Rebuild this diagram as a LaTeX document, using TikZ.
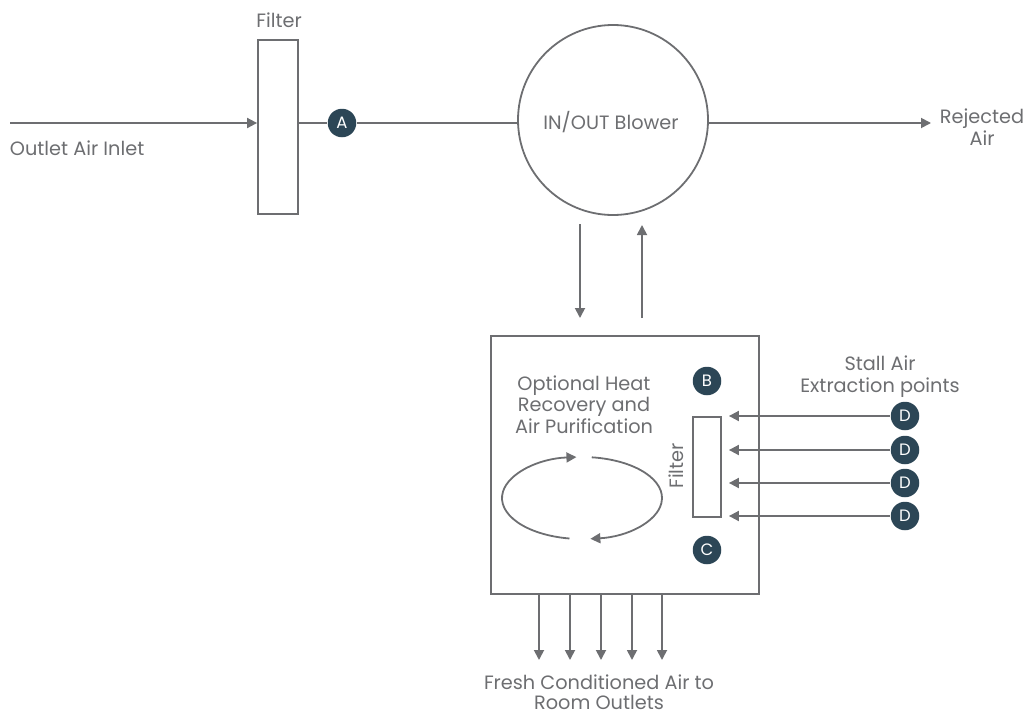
\documentclass[tikz,border=0pt]{standalone}
\usepackage{fontspec}
\setmainfont{Poppins}
\usetikzlibrary{arrows.meta,calc}
\definecolor{ln}{HTML}{6D6E71}
\definecolor{dot}{HTML}{2C4656}
\begin{document}
\begin{tikzpicture}[x=1pt,y=-1pt,
  line width=1.8pt,
  every node/.style={text=ln,font=\fontsize{19.3}{21.5}\selectfont},
  txt/.style={anchor=base,inner sep=0pt,align=center},
  arr/.style={draw=ln,-{Triangle[length=10pt,width=10pt]}},
  plain/.style={draw=ln},
  box/.style={draw=ln,rectangle,inner sep=0pt},
  lbl/.style={circle,fill=dot,text=white,minimum size=28.5pt,inner sep=0pt,font=\fontsize{16.5}{16.5}\selectfont}
]
\useasboundingbox (0,0) rectangle (1028,715);

% top row
\node[box,minimum width=40pt,minimum height=174pt] (filt1) at (278,127) {};
\node[txt] at (279,27) {Filter};
\coordinate (in) at (10,123);
\node[txt,anchor=base west] at (9,155) {Outlet Air Inlet};
\node[lbl] (A) at (342,123) {A};
\node[draw=ln,circle,minimum size=190pt,inner sep=0pt] (blower) at (613,120) {};
\node[txt] at (611,129) {IN/OUT Blower};
\coordinate (rej) at (931,123);
\node[txt] at (982,145) {Rejected\\Air};

\draw[arr] (in) -- (filt1.west |- in);
\draw[plain] (filt1.east |- A) -- (A);
\draw[plain] (A) -- (A -| blower.west);
\draw[arr] (rej -| blower.east) -- (rej);

% blower <-> unit
\coordinate (dn1) at (580,224);
\coordinate (dn2) at (580,318);
\coordinate (up1) at (642,318);
\coordinate (up2) at (642,225);
\draw[arr] (dn1) -- (dn2);
\draw[arr] (up1) -- (up2);

% main unit
\node[box,minimum width=268pt,minimum height=258pt] (unit) at (625,465) {};
\node[txt] at (584,433) {Optional Heat\\Recovery and\\Air Purification};
\node[lbl] (B) at (707,381) {B};
\node[lbl] (C) at (707,550) {C};
\node[box,minimum width=28pt,minimum height=100pt] (filt2) at (707,467) {};
\node[txt,rotate=90] at (683,466) {Filter};

% recirculation loop
\coordinate (ec) at (582,498);
\draw[arr] ($(ec)+(-83:80 and 41)$) arc[start angle=-83,end angle=84,x radius=80,y radius=41];
\draw[arr] ($(ec)+(99:80 and 41)$) arc[start angle=99,end angle=266,x radius=80,y radius=41];

% stall extraction
\node[txt] at (880,392) {Stall Air\\Extraction points};
\foreach \i/\y in {1/416,2/450,3/483,4/516}{
  \node[lbl] (D\i) at (905,\y) {D};
  \draw[arr] (D\i.west) -- ([xshift=7pt]D\i -| filt2.east);
}

% outlets
\foreach \i/\x in {1/539,2/570,3/601,4/632,5/662}{
  \coordinate (o\i) at (\x,660);
  \draw[arr] (unit.south -| o\i) -- (o\i);
}
\node[txt,font=\fontsize{19.3}{19.5}\selectfont] at (599,709) {Fresh Conditioned Air to\\Room Outlets};
\end{tikzpicture}
\end{document}
